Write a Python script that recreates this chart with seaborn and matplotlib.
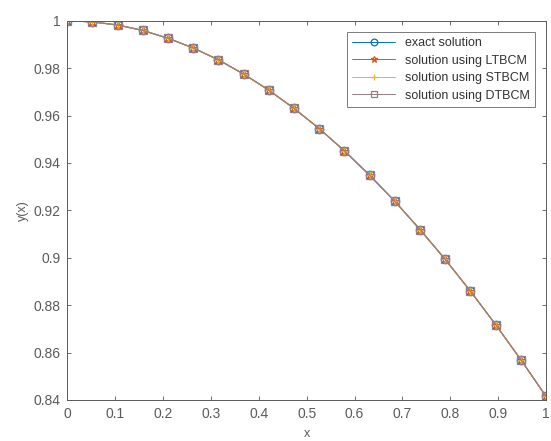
import pandas as pd
import matplotlib.pyplot as plt
import seaborn as sns

# Node positions and solution values
x_nodes = [0.0, 0.0526, 0.1053, 0.1579, 0.2105, 0.2632, 0.3158, 0.3684, 0.4211, 0.4737,
           0.5263, 0.5789, 0.6316, 0.6842, 0.7368, 0.7895, 0.8421, 0.8947, 0.9474, 1.0]
y_exact = [1.0, 0.9995, 0.9982, 0.9959, 0.9926, 0.9885, 0.9835, 0.9775, 0.9707, 0.9630,
           0.9545, 0.9451, 0.9348, 0.9238, 0.9119, 0.8993, 0.8859, 0.8718, 0.8570, 0.8415]
y_ltbcm = list(y_exact)
y_stbcm = list(y_exact)
y_dtbcm = list(y_exact)

labels = ['exact solution', 'solution using LTBCM', 'solution using STBCM', 'solution using DTBCM']
colors = ['#0072BD', '#D95319', '#EDB120', '#957c87']
markers = ['o', '*', '+', 's']

sns.set_theme(style="ticks")
plt.rcParams['font.family'] = ['Liberation Sans', 'DejaVu Sans']

fig = plt.figure(figsize=(5.51, 4.41), dpi=100)
ax = fig.add_axes([0.122, 0.093, 0.869, 0.860])

for lab, ys, c, m in zip(labels, [y_exact, y_ltbcm, y_stbcm, y_dtbcm], colors, markers):
    df = pd.DataFrame({'x': x_nodes, 'y': ys})
    sns.lineplot(data=df, x='x', y='y', ax=ax, color=c, marker=m, markersize=6,
                 markerfacecolor='none', markeredgecolor=c, markeredgewidth=0.9,
                 linewidth=0.8, label=lab)

ax.set_xlim(0, 1)
ax.set_ylim(0.84, 1.0)
ax.set_xticks([0, 0.1, 0.2, 0.3, 0.4, 0.5, 0.6, 0.7, 0.8, 0.9, 1])
ax.set_xticklabels(['0', '0.1', '0.2', '0.3', '0.4', '0.5', '0.6', '0.7', '0.8', '0.9', '1'])
ax.set_yticks([0.84, 0.86, 0.88, 0.9, 0.92, 0.94, 0.96, 0.98, 1.0])
ax.set_yticklabels(['0.84', '0.86', '0.88', '0.9', '0.92', '0.94', '0.96', '0.98', '1'])
ax.tick_params(direction='in', top=True, right=True, length=3, width=0.6,
               labelsize=10, colors='#5a5a5a', pad=5)
for s in ax.spines.values():
    s.set_visible(True)
    s.set_color('#5a5a5a')
    s.set_linewidth(0.7)

ax.set_xlabel('x', fontsize=9, color='#5a5a5a', labelpad=5)
ax.set_ylabel('y(x)', fontsize=9, color='#5a5a5a', labelpad=3)

leg = ax.legend(loc='upper right', fontsize=9, frameon=True, fancybox=False,
                edgecolor='#5a5a5a', borderaxespad=0.9, handlelength=3.4,
                labelspacing=0.45, borderpad=0.4, markerscale=0.8)
leg.get_frame().set_linewidth(0.7)
for line in leg.get_lines():
    line.set_linewidth(0.7)
for t in leg.get_texts():
    t.set_color('#333333')

fig.savefig('out.png', dpi=100)
